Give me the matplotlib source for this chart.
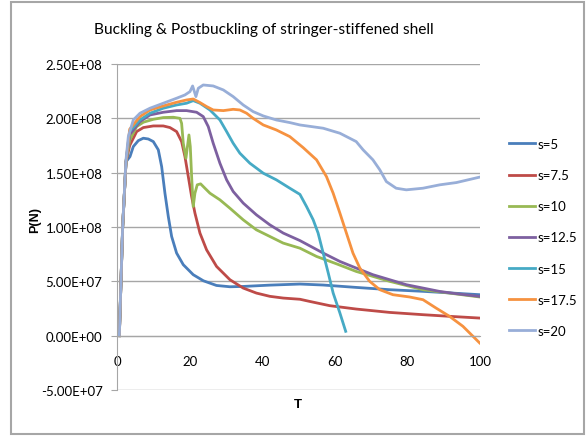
import numpy as np
import matplotlib
matplotlib.use('Agg')
import matplotlib.pyplot as plt
from matplotlib.patches import Rectangle

plt.rcParams['font.family'] = ['Lato', 'DejaVu Sans']

# 读图得到的数据, P 以 1e8 N 为单位
t_s5 = [0.64, 1.56, 2.48, 3.58, 4.49, 5.87, 7.25, 8.62, 10.0, 11.38, 12.3, 13.21, 14.13, 15.05,
        16.42, 18.26, 21.0, 23.8, 27.4, 31.1, 34.8, 42.0, 50.4, 56.8, 65.9, 75.1, 84.3, 99.9]
p_s5 = [0.0, 1.0, 1.6, 1.648, 1.74, 1.795, 1.817, 1.81, 1.786, 1.71, 1.556, 1.31, 1.097, 0.913,
        0.76, 0.653, 0.561, 0.505, 0.462, 0.45, 0.453, 0.465, 0.475, 0.466, 0.444, 0.423, 0.408, 0.377]

t_s7 = [0.64, 1.56, 2.48, 3.5, 5.41, 7.25, 10.0, 12.75, 14.59, 16.42, 17.8, 18.72, 19.64, 20.56,
        21.47, 22.85, 24.68, 27.43, 31.1, 34.77, 38.4, 42.1, 45.8, 50.4, 53.1, 58.6, 65.9, 75.1,
        84.3, 91.6, 99.9]
p_s7 = [0.0, 1.0, 1.6, 1.75, 1.878, 1.915, 1.93, 1.93, 1.915, 1.878, 1.786, 1.648, 1.464, 1.28,
        1.128, 0.944, 0.79, 0.637, 0.515, 0.438, 0.392, 0.362, 0.346, 0.335, 0.315, 0.276, 0.245,
        0.214, 0.193, 0.178, 0.162]

t_s10 = [0.64, 1.56, 2.48, 3.5, 5.41, 7.25, 10.0, 12.75, 15.5, 17.34, 17.8, 18.26, 18.99, 19.82,
         20.19, 20.56, 21.0, 21.47, 22.1, 23.03, 24.22, 25.6, 28.35, 31.1, 34.77, 38.4, 42.1,
         45.77, 50.4, 54.97, 60.4, 65.9, 75.1, 84.3, 99.9]
p_s10 = [0.0, 1.0, 1.6, 1.8, 1.924, 1.964, 1.991, 2.007, 2.01, 2.0, 1.954, 1.771, 1.633, 1.847,
         1.74, 1.464, 1.189, 1.311, 1.388, 1.397, 1.357, 1.311, 1.25, 1.173, 1.066, 0.974, 0.913,
         0.852, 0.805, 0.729, 0.662, 0.591, 0.5, 0.423, 0.356]

t_s12 = [0.64, 1.56, 2.48, 3.5, 6.33, 9.08, 12.75, 16.42, 19.17, 21.93, 23.76, 25.14, 26.5, 28.35,
         30.2, 32.0, 34.77, 38.4, 42.1, 45.8, 50.4, 56.8, 61.4, 65.9, 70.5, 75.1, 79.7, 84.3,
         88.9, 93.5, 99.9]
p_s12 = [0.0, 1.0, 1.6, 1.85, 1.97, 2.031, 2.056, 2.071, 2.071, 2.056, 2.016, 1.924, 1.771, 1.587,
         1.434, 1.327, 1.22, 1.112, 1.02, 0.944, 0.875, 0.76, 0.683, 0.622, 0.561, 0.515, 0.469,
         0.438, 0.407, 0.386, 0.361]

t_s15 = [0.64, 1.56, 2.48, 3.5, 6.33, 9.08, 12.75, 16.42, 19.17, 21.0, 22.85, 25.6, 28.35, 30.2,
         32.0, 33.85, 36.6, 40.3, 43.9, 47.6, 50.4, 52.2, 54.05, 55.4, 56.8, 58.2, 59.55, 61.4, 63.0]
p_s15 = [0.0, 1.0, 1.6, 1.88, 1.985, 2.047, 2.093, 2.123, 2.139, 2.163, 2.139, 2.077, 1.985, 1.878,
         1.771, 1.679, 1.587, 1.495, 1.434, 1.357, 1.30, 1.189, 1.066, 0.944, 0.76, 0.576, 0.392,
         0.209, 0.04]

t_s17 = [0.64, 1.56, 2.48, 3.5, 6.33, 9.08, 12.75, 16.42, 19.17, 21.0, 22.85, 24.7, 26.5, 29.3,
         32.0, 33.85, 35.7, 37.5, 40.3, 43.9, 47.6, 51.3, 54.97, 57.7, 59.55, 61.4, 63.2, 65.0,
         66.9, 69.6, 72.4, 76.0, 80.6, 84.3, 87.9, 91.6, 95.3, 99.9]
p_s17 = [0.0, 1.0, 1.6, 1.9, 2.016, 2.077, 2.114, 2.148, 2.169, 2.178, 2.145, 2.108, 2.077, 2.071,
         2.083, 2.077, 2.047, 2.0, 1.939, 1.893, 1.832, 1.73, 1.618, 1.464, 1.311, 1.128, 0.944,
         0.76, 0.622, 0.5, 0.423, 0.377, 0.356, 0.331, 0.254, 0.178, 0.086, -0.067]

t_s20 = [0.64, 1.56, 2.48, 3.12, 4.49, 6.33, 9.08, 12.75, 16.42, 18.7, 20.1, 20.83, 21.74, 22.4,
         23.76, 26.5, 29.3, 32.0, 34.77, 37.5, 40.3, 43.9, 47.6, 50.4, 56.8, 61.4, 65.9, 67.8,
         70.5, 72.4, 74.2, 76.9, 79.7, 84.3, 88.9, 93.5, 99.9]
p_s20 = [0.0, 1.005, 1.62, 1.832, 1.985, 2.047, 2.093, 2.139, 2.185, 2.215, 2.246, 2.298, 2.2,
         2.277, 2.307, 2.298, 2.261, 2.2, 2.123, 2.062, 2.022, 1.985, 1.961, 1.939, 1.909, 1.863,
         1.786, 1.71, 1.618, 1.526, 1.418, 1.357, 1.342, 1.357, 1.388, 1.409, 1.459]

labels = ['s=5', 's=7.5', 's=10', 's=12.5', 's=15', 's=17.5', 's=20']
colors = ['#4A7EBB', '#BE4B48', '#98B954', '#7D60A0', '#46AAC5', '#F69240', '#98AED8']
series_t = [t_s5, t_s7, t_s10, t_s12, t_s15, t_s17, t_s20]
series_p = [p_s5, p_s7, p_s10, p_s12, p_s15, p_s17, p_s20]

y_ticks = [-5e7, 0, 5e7, 1e8, 1.5e8, 2e8, 2.5e8]
y_tick_labels = ['-5.00E+07', '0.00E+00', '5.00E+07', '1.00E+08', '1.50E+08', '2.00E+08', '2.50E+08']
x_ticks = [0, 20, 40, 60, 80, 100]

W, H = 588, 439
fig = plt.figure(figsize=(W / 100, H / 100), dpi=100)
ax = fig.add_axes([117 / W, 1 - 391 / H, (480 - 117) / W, (391 - 65) / H])

for t, p, lab, c in zip(series_t, series_p, labels, colors):
    ax.plot(t, np.array(p) * 1e8, color=c, lw=2.0, label=lab, solid_joinstyle='round')

grid_c = '#A6A6A6'
ax.set_xlim(0, 100)
ax.set_ylim(-5e7, 2.5e8)
ax.set_yticks(y_ticks)
ax.set_yticklabels(y_tick_labels)
ax.set_xticks(x_ticks)
ax.yaxis.grid(True, color=grid_c, lw=1.0)
ax.set_axisbelow(True)
for sp in ['top', 'right']:
    ax.spines[sp].set_visible(False)
ax.spines['left'].set_color(grid_c)
ax.spines['bottom'].set_color(grid_c)
ax.spines['bottom'].set_position(('data', 0))
ax.tick_params(axis='y', length=4, color=grid_c, pad=6.5, labelsize=9.5)
ax.tick_params(axis='x', length=0, pad=14, labelsize=9.5)

# 标题和坐标轴名称
fig.text(264 / W, 1 - 30 / H, 'Buckling & Postbuckling of stringer-stiffened shell',
         ha='center', va='center', fontsize=11.2)
fig.text(35 / W, 1 - 220 / H, 'P(N)', rotation=90, ha='center', va='center',
         fontsize=9, fontweight='bold', family=['Liberation Sans', 'DejaVu Sans'])
fig.text(298 / W, 1 - 405 / H, 'T', ha='center', va='center', fontsize=9.5, fontweight='bold',
         family=['Liberation Sans', 'DejaVu Sans'])

ax.legend(loc='upper left', bbox_to_anchor=(509 / W, 1 - 139 / H), bbox_transform=fig.transFigure,
          frameon=False, borderpad=0, borderaxespad=0, fontsize=9.5, handlelength=2.0,
          handletextpad=0.15, labelspacing=1.45)

# 外边框
fig.patches.append(Rectangle((11 / W, 1 - 435 / H), (584 - 11) / W, (435 - 3) / H,
                             transform=fig.transFigure, fill=False, edgecolor='#A6A6A6', lw=1.5))

fig.savefig('out.png', dpi=100)
